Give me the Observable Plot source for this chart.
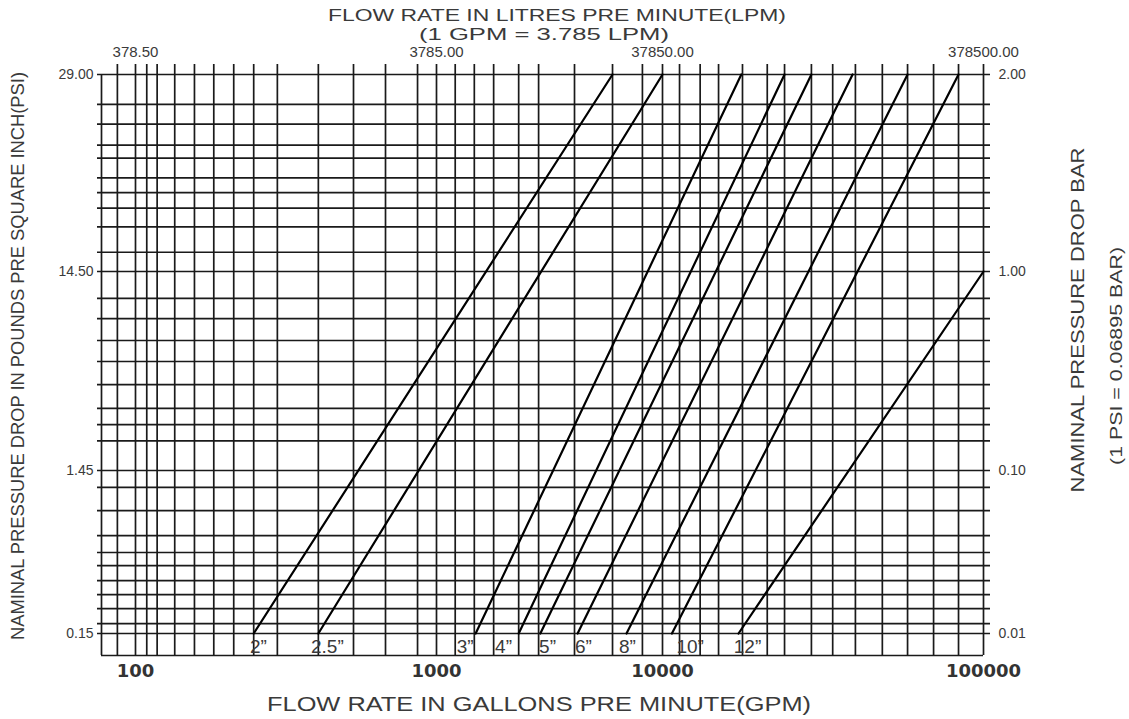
<!DOCTYPE html>
<html><head><meta charset="utf-8">
<script src="https://cdn.jsdelivr.net/npm/d3@7"></script>
<script src="https://cdn.jsdelivr.net/npm/@observablehq/plot@0.6"></script>
<style>body{margin:0;background:#fff}</style>
</head><body><div id="chart"></div>
<script>
// Pipe sizes and their straight lines on the log-log chart (GPM vs bar)
const sizes = ["2”", "2.5”", "3”", "4”", "5”", "6”", "8”", "10”", "12”"];
const gpmAtLow = [247, 405, 1490, 2310, 2880, 4210, 6930, 10700, 17250];
const barAtLow = [0.01, 0.01, 0.01, 0.01, 0.01, 0.01, 0.01, 0.01, 0.01];
const gpmAtHigh = [6010, 10000, 17600, 24000, 29100, 39100, 58000, 83600, 100000];
const barAtHigh = [2, 2, 2, 2, 2, 2, 2, 2, 1];
const labelGpm = [256, 434, 1340, 1980, 3100, 4470, 7000, 12200, 18400];

// Tick labels
const gpmTicks = [100, 1000, 10000, 100000];
const gpmTickLabels = ["100", "1000", "10000", "100000"];
const lpmTicks = [378.5, 3785, 37850, 378500];
const lpmTickLabels = ["378.50", "3785.00", "37850.00", "378500.00"];
const barTicks = [0.01, 0.1, 1, 2];
const barTickLabels = ["0.01", "0.10", "1.00", "2.00"];
const psiTickLabels = ["0.15", "1.45", "14.50", "29.00"];

// Grid lines as drawn on the chart
const gpmGrid = [87, 100, 109, 118, 135, 157, 182, 212, 247, 296, 405, 530, 677, 865,
  1000, 1210, 1470, 1790, 2310, 2830, 4080, 6010, 8150,
  10000, 11300, 13100, 14950, 17750, 21200, 24000, 29100, 33900, 39900, 48400, 58000, 69900, 83600, 100000];
const barGrid = [0.01, 0.0115, 0.0142, 0.0173, 0.0211, 0.0261, 0.0314, 0.0399, 0.0568, 0.0787,
  0.1, 0.141, 0.170, 0.205, 0.270, 0.353, 0.450, 0.580, 0.732,
  1, 1.07, 1.17, 1.25, 1.32, 1.39, 1.49, 1.56, 1.68, 1.8, 2];
const gpmMin = 77, gpmMax = 100000, barMin = 0.00733, barMax = 2;

const titleTop1 = "FLOW RATE IN LITRES PRE MINUTE(LPM)";
const titleTop2 = "(1 GPM = 3.785 LPM)";
const titleBottom = "FLOW RATE IN GALLONS PRE MINUTE(GPM)";
const titleLeft = "NAMINAL PRESSURE DROP IN POUNDS PRE SQUARE INCH(PSI)";
const titleRight1 = "NAMINAL PRESSURE DROP BAR";
const titleRight2 = "(1 PSI = 0.06895 BAR)";

const pipes = sizes.map((s, i) => ({size: s, q0: gpmAtLow[i], p0: barAtLow[i], lq: labelGpm[i]}));
const pipePoints = sizes.flatMap((s, i) => [
  {size: s, q: gpmAtLow[i], p: barAtLow[i]},
  {size: s, q: gpmAtHigh[i], p: barAtHigh[i]}
]);

const ink = "#1a1a1a", txt = "#3a3a3a";
const chart = Plot.plot({
  width: 1129, height: 719,
  marginTop: 64, marginBottom: 64, marginLeft: 97, marginRight: 139,
  x: {type: "log", domain: [gpmMin, 100, 1000, 10000, gpmMax], range: [101, 135, 436, 662, 983], axis: null},
  y: {type: "log", domain: [barMin, 0.01, 0.1, 1, barMax], range: [655, 633, 470, 271, 74], axis: null},
  style: {fontFamily: "'Liberation Sans', Arial, sans-serif", background: "#fff", color: txt},
  marks: [
    Plot.ruleY(barGrid, {y: d => d, stroke: ink, strokeWidth: 1.7}),
    Plot.ruleX(gpmGrid, {x: d => d, stroke: ink, strokeWidth: 1.7}),
    Plot.ruleX([gpmMin], {x: d => d, y1: barMin, y2: barMax, stroke: ink, strokeWidth: 1.7}),
    Plot.ruleY([barMin], {y: d => d, x1: gpmMin, x2: gpmMax, stroke: ink, strokeWidth: 1.7}),
    Plot.line(pipePoints, {x: "q", y: "p", z: "size", stroke: "#000", strokeWidth: 2.2}),
    Plot.text(pipes, {x: "lq", y: "p0", text: "size", dy: 13, fontSize: 19, lineAnchor: "middle", fill: txt}),
    Plot.text(gpmTicks, {x: d => d, frameAnchor: "bottom", lineAnchor: "middle", dy: 16, text: (d, i) => gpmTickLabels[i], fontSize: 18, fontWeight: "bold", fontFamily: "'DejaVu Sans', sans-serif", fill: "#333"}),
    Plot.text(lpmTicks, {x: d => d / 3.785, frameAnchor: "top", lineAnchor: "middle", dy: -12, text: (d, i) => lpmTickLabels[i], fontSize: 15, fill: txt}),
    Plot.text(barTicks, {y: d => d, frameAnchor: "left", textAnchor: "end", lineAnchor: "middle", dx: -4, text: (d, i) => psiTickLabels[i], fontSize: 14, fill: txt}),
    Plot.text(barTicks, {y: d => d, frameAnchor: "right", textAnchor: "start", lineAnchor: "middle", dx: 8, text: (d, i) => barTickLabels[i], fontSize: 14, fill: txt}),
    Plot.text([titleTop1], {frameAnchor: "top", textAnchor: "middle", lineAnchor: "middle", dx: 13, dy: -49, fontSize: 16, fill: txt}),
    Plot.text([titleTop2], {frameAnchor: "top", textAnchor: "middle", lineAnchor: "middle", dx: 0, dy: -30, fontSize: 16, fill: txt}),
    Plot.text([titleBottom], {frameAnchor: "bottom", textAnchor: "middle", lineAnchor: "middle", dx: -5, dy: 49, fontSize: 20, fill: txt}),
    Plot.text([titleLeft], {frameAnchor: "left", textAnchor: "middle", lineAnchor: "middle", rotate: -90, dx: -79, dy: -4, fontSize: 18, fill: txt}),
    Plot.text([titleRight1], {frameAnchor: "right", textAnchor: "middle", lineAnchor: "middle", rotate: -90, dx: 88, dy: -40, fontSize: 18, fill: txt}),
    Plot.text([titleRight2], {frameAnchor: "right", textAnchor: "middle", lineAnchor: "middle", rotate: -90, dx: 126, dy: -4, fontSize: 17, fill: txt})
  ]
});
// fit title lengths to the reference
const fitLen = new Map([[titleTop1, 458], [titleTop2, 250], [titleBottom, 544], [titleLeft, 568], [titleRight1, 345], [titleRight2, 218]]);
chart.querySelectorAll("text").forEach(t => {
  const L = fitLen.get(t.textContent);
  if (L) { t.setAttribute("textLength", L); t.setAttribute("lengthAdjust", "spacingAndGlyphs"); }
});
document.getElementById("chart").appendChild(chart);
</script>
</body></html>
